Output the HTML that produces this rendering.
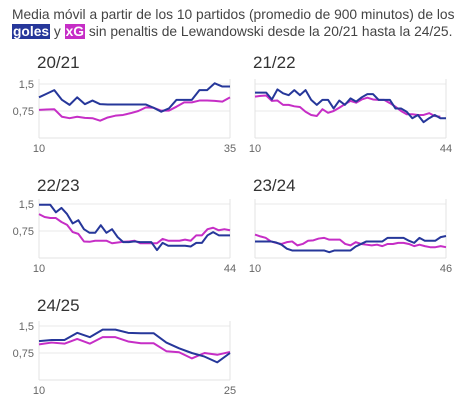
<!DOCTYPE html>
<html><head><meta charset="utf-8"><style>
body{margin:0;background:#fff;width:475px;height:407px;overflow:hidden;font-family:"Liberation Sans",sans-serif}
.hd{position:absolute;left:12px;top:6px;font-size:13.8px;line-height:17px;color:#444;width:470px;white-space:nowrap}
.g{background:#26379a;color:#fff;font-weight:bold;padding:0 1px}
.x{background:#c62ec6;color:#fff;font-weight:bold;padding:0 1px}
</style></head><body>
<div class="hd">Media móvil a partir de los 10 partidos (promedio de 900 minutos) de los<br><span class="g">goles</span> y <span class="x">xG</span> sin penaltis de Lewandowski desde la 20/21 hasta la 24/25.</div>
<svg id="c" width="475" height="407" style="position:absolute;left:0;top:0"></svg>
<script>
const seasons=["20/21","21/22","22/23","23/24","24/25"];
const xStart=[10,10,10,10,10];
const xEnd=[35,44,44,46,25];
const yTicks=[1.5,0.75];
const yTickLabels=["1,5","0,75"];
const goles0=[1.13,1.23,1.33,1.06,0.92,1.13,0.94,1.04,0.94,0.93,0.93,0.93,0.93,0.93,0.93,0.84,0.73,0.82,1.06,1.06,1.06,1.33,1.33,1.52,1.43,1.43];
const xg0=[0.78,0.79,0.80,0.59,0.55,0.59,0.56,0.55,0.48,0.57,0.62,0.64,0.69,0.75,0.85,0.84,0.76,0.76,0.87,0.99,0.99,1.04,1.04,1.03,1.01,1.13];
const goles1=[1.26,1.26,1.26,1.07,1.35,1.24,1.19,1.33,1.19,1.33,1.06,0.92,1.06,1.06,0.82,1.04,0.92,1.10,1.01,1.13,1.22,1.22,1.06,1.06,1.06,0.82,0.82,0.73,0.55,0.64,0.44,0.55,0.64,0.55,0.55];
const xg1=[1.15,1.17,1.18,1.03,1.04,0.92,0.92,0.88,0.86,0.73,0.64,0.61,0.80,0.70,0.75,0.84,0.94,1.03,0.98,1.07,1.12,1.07,1.06,1.06,0.97,0.87,0.75,0.66,0.66,0.64,0.64,0.69,0.61,0.59];
const goles2=[1.48,1.48,1.48,1.27,1.39,1.22,0.96,1.05,0.80,0.70,0.70,0.91,0.70,0.80,0.58,0.44,0.44,0.46,0.44,0.44,0.44,0.22,0.42,0.34,0.34,0.34,0.34,0.32,0.42,0.42,0.63,0.72,0.63,0.63,0.63];
const xg2=[1.22,1.14,1.11,1.11,1.00,0.92,0.72,0.67,0.46,0.45,0.48,0.48,0.48,0.41,0.43,0.45,0.46,0.48,0.41,0.41,0.41,0.41,0.53,0.48,0.48,0.48,0.51,0.48,0.63,0.63,0.80,0.84,0.77,0.80,0.77];
const goles3=[0.46,0.46,0.46,0.46,0.43,0.37,0.26,0.21,0.21,0.21,0.21,0.21,0.21,0.21,0.16,0.21,0.21,0.21,0.21,0.32,0.39,0.46,0.46,0.46,0.46,0.56,0.56,0.56,0.56,0.48,0.42,0.56,0.48,0.48,0.48,0.58,0.61];
const xg3=[0.65,0.60,0.56,0.46,0.42,0.39,0.44,0.46,0.35,0.39,0.48,0.49,0.54,0.56,0.51,0.51,0.51,0.39,0.35,0.44,0.39,0.37,0.35,0.37,0.33,0.39,0.39,0.42,0.42,0.39,0.33,0.37,0.33,0.30,0.30,0.33,0.30];
const goles4=[1.08,1.11,1.11,1.31,1.19,1.40,1.40,1.31,1.30,1.30,1.04,0.88,0.75,0.65,0.49,0.75];
const xg4=[0.99,1.04,1.01,1.14,1.01,1.19,1.19,1.07,1.02,1.02,0.80,0.77,0.60,0.75,0.70,0.78];
const golesAll=[goles0,goles1,goles2,goles3,goles4];
const xgAll=[xg0,xg1,xg2,xg3,xg4];
const panelPos=[[39,138,68],[255,138,68],[39,258,191],[255,258,191],[39,380,311]];
const W=191,H=54,NS="http://www.w3.org/2000/svg",svg=document.getElementById('c');
function mk(t,a,p){const e=document.createElementNS(NS,t);for(const k in a)e.setAttribute(k,a[k]);(p||svg).appendChild(e);return e;}
seasons.forEach((s,i)=>{
  const [x0,base,tb]=panelPos[i];
  const g=mk('g',{});
  
  
  const xs=v=>x0+(v-xStart[i])/(xEnd[i]-xStart[i])*W;
  const ys=v=>base-v/1.5*H;
  const t=mk('text',{x:x0-2,y:tb,'font-size':17,fill:'#333'},g);t.textContent=s;
  
  
  yTicks.forEach((v,k)=>{
    mk('line',{x1:x0,x2:x0+W,y1:ys(v),y2:ys(v),stroke:'#e8e8e8','stroke-width':1},g);
    if(i%2==0||i==4){const l=mk('text',{x:x0-5,y:ys(v)+4,'font-size':11,fill:'#666','text-anchor':'end'},g);l.textContent=yTickLabels[k];
    
    }
  });
  mk('line',{x1:x0,x2:x0+W,y1:base,y2:base,stroke:'#e3e3e3'},g);
  mk('line',{x1:x0,x2:x0,y1:base-H-5,y2:base,stroke:'#e3e3e3'},g);
  mk('line',{x1:x0+W,x2:x0+W,y1:base-H-5,y2:base,stroke:'#e3e3e3'},g);
  [xStart[i],xEnd[i]].forEach(v=>{const l=mk('text',{x:xs(v),y:base+14,'font-size':11,fill:'#666','text-anchor':'middle'},g);l.textContent=v;
    
    });
  [[xgAll[i],'#c62ec6','xg-line'],[golesAll[i],'#26379a','goles-line']].forEach(([d,c,n])=>{
    const p=mk('polyline',{points:d.map((v,k)=>xs(xStart[i]+k)+','+ys(v)).join(' '),fill:'none',stroke:c,'stroke-width':2,'stroke-linejoin':'round'},g);
    
    
  });
});
</script>
</body></html>
